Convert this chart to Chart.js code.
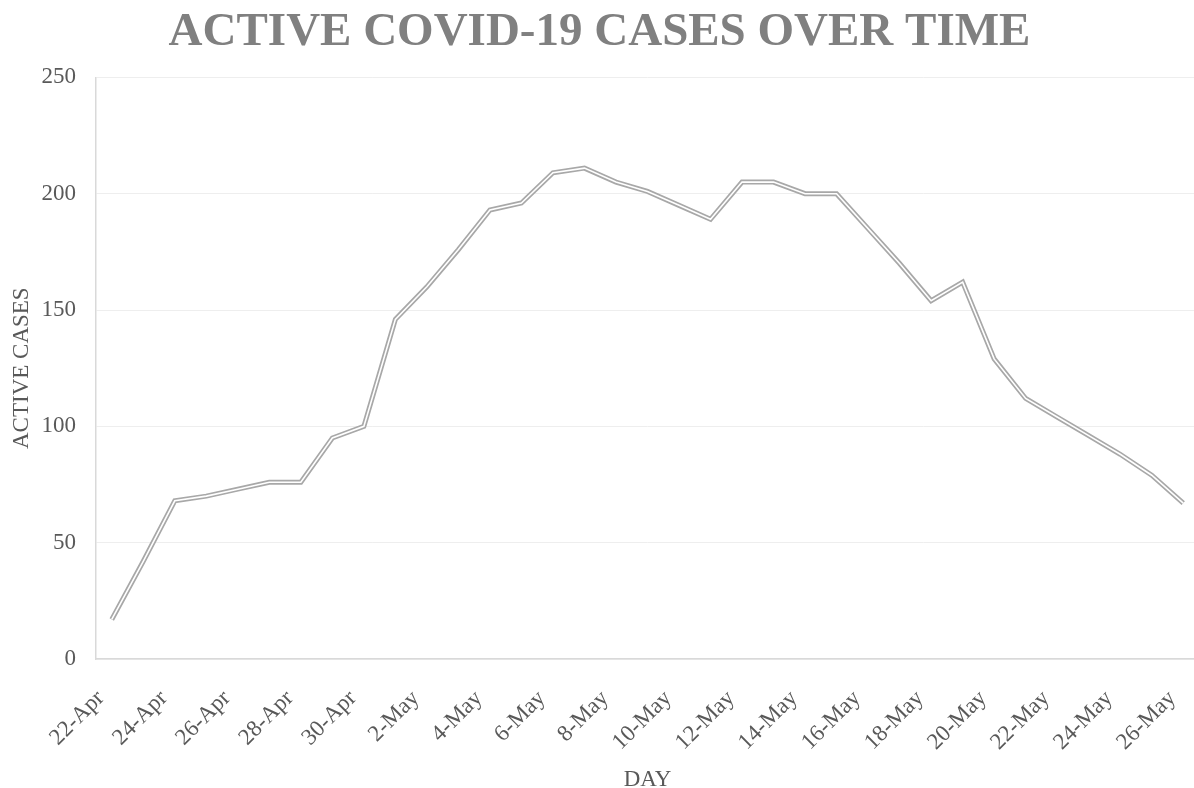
<!DOCTYPE html>
<html>
<head>
<meta charset="utf-8">
<script src="https://cdn.jsdelivr.net/npm/chart.js@4/dist/chart.umd.min.js"></script>
<style>
  html, body { margin: 0; padding: 0; background: #ffffff; overflow: hidden; }
  canvas { display: block; }
</style>
</head>
<body>
<canvas id="chart" width="1200" height="788"></canvas>
<script>
// Daily dates, 22 April to 26 May
const days = [
  '22-Apr','23-Apr','24-Apr','25-Apr','26-Apr','27-Apr','28-Apr','29-Apr','30-Apr',
  '1-May','2-May','3-May','4-May','5-May','6-May','7-May','8-May','9-May','10-May',
  '11-May','12-May','13-May','14-May','15-May','16-May','17-May','18-May','19-May',
  '20-May','21-May','22-May','23-May','24-May','25-May','26-May'
];

// Active cases per day
const activeCases = [
  17, 42, 68, 70, 73, 76, 76, 95, 100,
  146, 160, 176, 193, 196, 209, 211, 205, 201, 195,
  189, 205, 205, 200, 200, 185, 170, 154, 162,
  129, 112, 104, 96, 88, 79, 67
];

// Value axis ticks
const yTicks = [0, 50, 100, 150, 200, 250];

const serif = "'Liberation Serif', 'Times New Roman', serif";
const labelColor = '#595959';

new Chart(document.getElementById('chart'), {
  type: 'line',
  data: {
    labels: days,
    datasets: [
      // inner white stroke drawn over the grey one gives the double-line look
      {
        data: activeCases,
        borderColor: '#ffffff',
        borderWidth: 1.6,
        pointRadius: 0,
        tension: 0,
        borderJoinStyle: 'miter',
        order: 0
      },
      {
        data: activeCases,
        borderColor: '#a8a8a8',
        borderWidth: 5,
        pointRadius: 0,
        tension: 0,
        borderJoinStyle: 'miter',
        order: 1
      }
    ]
  },
  options: {
    responsive: false,
    animation: false,
    events: [],
    // the plot runs a few pixels past the bottom edge
    layout: { padding: { left: 0, right: 1, top: 0, bottom: -6 } },
    plugins: {
      legend: { display: false },
      tooltip: { enabled: false },
      title: {
        display: true,
        text: 'ACTIVE COVID-19 CASES OVER TIME',
        color: '#808080',
        font: { family: serif, size: 47, weight: 'bold' },
        padding: { top: 5, bottom: 16 }
      }
    },
    scales: {
      x: {
        offset: true,
        grid: { display: false, drawTicks: false },
        border: { display: true, color: '#d9d9d9', width: 1.5 },
        ticks: {
          autoSkip: false,
          maxRotation: 45,
          minRotation: 45,
          padding: 26,
          labelOffset: -11,
          color: labelColor,
          font: { family: serif, size: 23 },
          callback: (v, i) => (i % 2 === 0 ? days[i] : '')
        },
        title: {
          display: true,
          text: 'DAY',
          color: labelColor,
          font: { family: serif, size: 23 },
          padding: { top: 0, bottom: 0 }
        },
        afterFit: (s) => {
          s.height = 135;
          s.paddingLeft = 0;
          s.paddingRight = 0;
        }
      },
      y: {
        min: 0,
        max: 250,
        afterBuildTicks: (s) => { s.ticks = yTicks.map(v => ({ value: v })); },
        grid: { color: '#eeeeee', lineWidth: 1, drawTicks: false },
        border: { display: true, color: '#d9d9d9', width: 1.5 },
        ticks: {
          padding: 20,
          color: labelColor,
          font: { family: serif, size: 23 }
        },
        title: {
          display: true,
          text: 'ACTIVE CASES',
          color: labelColor,
          font: { family: serif, size: 23 },
          padding: { top: 8, bottom: 0 }
        },
        afterFit: (s) => {
          s.width = 96;
          s.paddingTop = 0;
          s.paddingBottom = 0;
        }
      }
    }
  }
});
</script>
</body>
</html>
